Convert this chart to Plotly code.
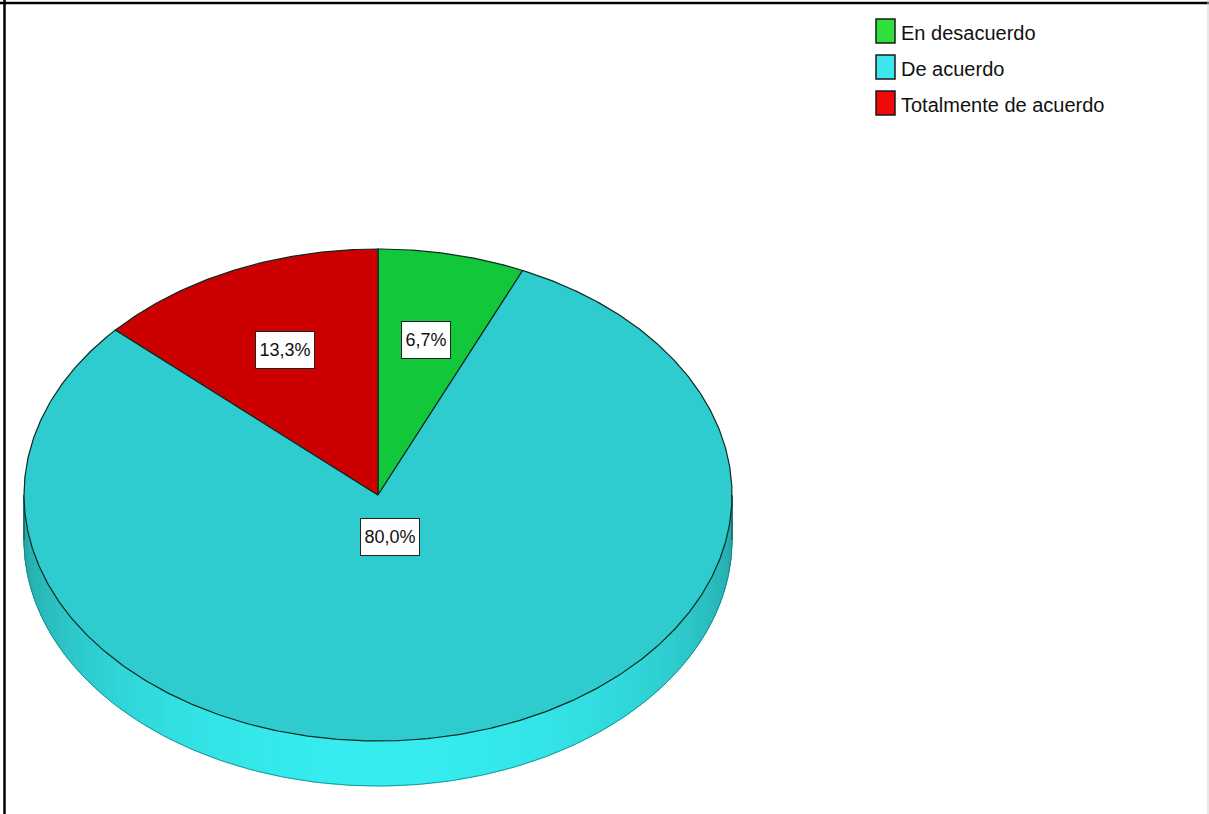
import numpy as np
import plotly.graph_objects as go

# Survey answer categories and their share of responses (%)
categories = ["En desacuerdo", "De acuerdo", "Totalmente de acuerdo"]
percentages = [6.7, 80.0, 13.3]
labels = ["6,7%", "80,0%", "13,3%"]

# Face colours (top surface) and legend swatch colours
face_colors = [(18, 200, 58), (46, 204, 206), (204, 0, 0)]
swatch_colors = ["#2ee03c", "#3ce6ea", "#ee0a0a"]

W, H = 1209, 814
# Tilted pie geometry (pixel space)
CX, CY = 378.0, 495.0
RX, RY = 354.0, 246.0
DEPTH = 45.0

FONT = "Liberation Sans Narrow, Arial Narrow, Liberation Sans, Arial, sans-serif"


def pt(theta_deg, r=1.0, dy=0.0):
    """Point on the tilted ellipse; angle measured clockwise from 12 o'clock."""
    t = np.radians(theta_deg)
    return CX + r * RX * np.sin(t), CY - r * RY * np.cos(t) + dy


def rgb(c, m=1.0):
    r, g, b = (int(max(0, min(255, v * m))) for v in c)
    return f"rgb({r},{g},{b})"


# Slice start/end angles from the data
total = sum(percentages)
edges = [0.0]
for p in percentages:
    edges.append(edges[-1] + 360.0 * p / total)

fig = go.Figure()

# --- side wall (only the front half, 90..270 deg, is visible) ---
step = 1.5
angles = np.arange(90.0, 270.0 + 1e-9, step)
for a0, a1 in zip(angles[:-1], angles[1:]):
    mid = 0.5 * (a0 + a1)
    idx = int(np.searchsorted(edges, mid, side="right") - 1)
    idx = min(max(idx, 0), len(percentages) - 1)
    shade = 0.80 + 0.36 * (-np.cos(np.radians(mid)))
    col = rgb(face_colors[idx], shade)
    ts = np.linspace(a0, a1, 3)
    xt, yt = pt(ts)
    xb, yb = pt(ts[::-1], dy=DEPTH)
    fig.add_trace(go.Scatter(
        x=np.concatenate([xt, xb, xt[:1]]), y=np.concatenate([yt, yb, yt[:1]]),
        mode="lines", fill="toself", fillcolor=col,
        line=dict(color=col, width=1), hoverinfo="skip"))

# side outline: bottom rim and the two vertical ends
ts = np.linspace(90, 270, 200)
xb, yb = pt(ts, dy=DEPTH)
fig.add_trace(go.Scatter(x=xb, y=yb, mode="lines",
                         line=dict(color="rgba(20,120,120,0.7)", width=1),
                         hoverinfo="skip"))
for a in (90, 270):
    x0, y0 = pt(a)
    fig.add_trace(go.Scatter(x=[x0, x0], y=[y0, y0 + DEPTH], mode="lines",
                             line=dict(color="rgba(20,90,90,0.9)", width=1.5),
                             hoverinfo="skip"))

# --- top faces ---
for i, (a0, a1) in enumerate(zip(edges[:-1], edges[1:])):
    ts = np.linspace(a0, a1, max(10, int((a1 - a0) * 2)))
    xs, ys = pt(ts)
    x = np.concatenate([[CX], xs, [CX]])
    y = np.concatenate([[CY], ys, [CY]])
    fig.add_trace(go.Scatter(
        x=x, y=y, mode="lines", fill="toself", fillcolor=rgb(face_colors[i]),
        line=dict(color="#0d2a20", width=1.2), hoverinfo="skip",
        name=categories[i]))

# --- value labels ---
for i, (a0, a1) in enumerate(zip(edges[:-1], edges[1:])):
    mid = 0.5 * (a0 + a1)
    r = 0.65 if percentages[i] < 50 else 0.17
    lx, ly = pt(mid, r)
    fig.add_annotation(x=lx, y=ly + 1, text=labels[i], showarrow=False,
                       font=dict(family=FONT, size=18, color="#111111"),
                       width=10 * len(labels[i]) + 4, height=32,
                       bgcolor="white", bordercolor="#222222", borderwidth=1,
                       borderpad=2)

# --- legend ---
for i, name in enumerate(categories):
    yc = 31 + 36 * i
    fig.add_shape(type="rect", x0=876, x1=895, y0=yc - 12, y1=yc + 12,
                  fillcolor=swatch_colors[i], line=dict(color="#1a1a1a", width=1.5))
    fig.add_annotation(x=899, y=yc + 2, text=name, showarrow=False, xanchor="left",
                       yanchor="middle",
                       font=dict(family=FONT, size=20, color="#111111"))

# --- frame ---
fig.add_shape(type="line", x0=0, x1=W, y0=3, y1=3, line=dict(color="black", width=2.5))
fig.add_shape(type="line", x0=4.5, x1=4.5, y0=0, y1=H, line=dict(color="black", width=2.5))
fig.add_shape(type="line", x0=W - 1, x1=W - 1, y0=0, y1=H, line=dict(color="#d0d0d0", width=1))

fig.update_layout(
    width=W, height=H, margin=dict(l=0, r=0, t=0, b=0),
    paper_bgcolor="white", plot_bgcolor="white", showlegend=False,
    xaxis=dict(range=[0, W], visible=False, fixedrange=True),
    yaxis=dict(range=[H, 0], visible=False, fixedrange=True),
)

fig.write_html("out.html")
